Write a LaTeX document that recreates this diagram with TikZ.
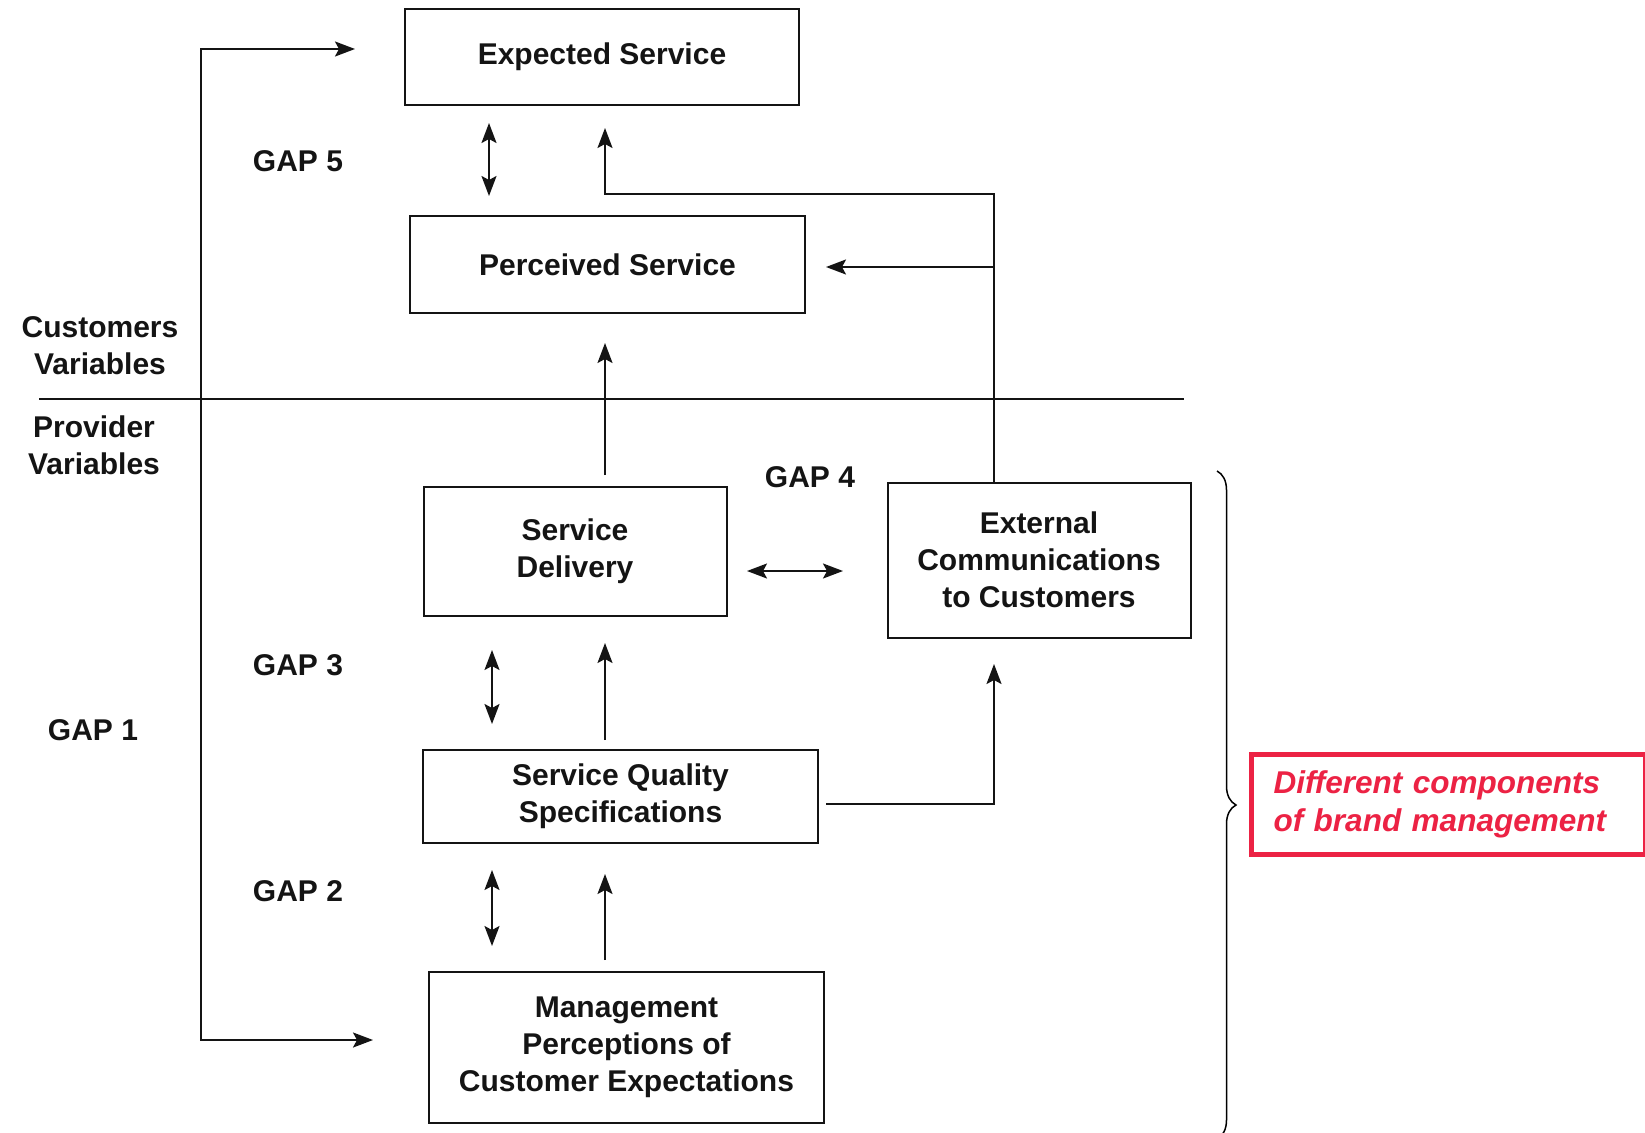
\documentclass[tikz,border=0pt]{standalone}
\usepackage{fontspec}
\setmainfont{Liberation Sans}
\usetikzlibrary{arrows.meta,decorations.pathreplacing}
\definecolor{ink}{RGB}{20,20,20}
\definecolor{brandred}{RGB}{236,34,68}
\tikzset{
  headtip/.tip={Stealth[length=20pt,width=15pt,inset=4pt]},
}
\begin{document}
\begin{tikzpicture}[x=1pt,y=-1pt,
  lbl/.style={font=\fontsize{30}{37}\selectfont\bfseries, text=ink, align=center, inner sep=0pt},
  box/.style={lbl, draw=ink, line width=2pt},
  conn/.style={draw=ink, line width=2pt, arrows={-headtip}},
  dconn/.style={draw=ink, line width=2pt, arrows={headtip-headtip}},
  rule/.style={draw=ink, line width=1.5pt},
]
\useasboundingbox (0,0) rectangle (1645,1132);
\fill[white] (0,0) rectangle (1645,1132);

% model boxes
\node[box, minimum width=394pt, minimum height=95pt]  (exp)   at (602,57)    {Expected Service};
\node[box, minimum width=395pt, minimum height=97pt]  (perc)  at (607.5,264.5) {Perceived Service};
\node[box, minimum width=303pt, minimum height=129pt] (deliv) at (575,551.5) {Service\\Delivery};
\node[box, minimum width=303pt, minimum height=155pt] (ext)   at (1039,560)  {External\\Communications\\to Customers};
\node[box, minimum width=395pt, minimum height=93pt]  (spec)  at (620.5,796.5) {Service Quality\\Specifications};
\node[box, minimum width=395pt, minimum height=151pt] (mgmt)  at (626.5,1047.5) {Management\\Perceptions of\\Customer Expectations};

% side and gap labels
\node[lbl] (cust) at (100,346) {Customers\\Variables};
\node[lbl] (prov) at (94,445) {Provider\\Variables};
\node[lbl] (gap1) at (93,730) {GAP 1};
\node[lbl] (gap5) at (298,161) {GAP 5};
\node[lbl] (gap4) at (810,477) {GAP 4};
\node[lbl] (gap3) at (298,665) {GAP 3};
\node[lbl] (gap2) at (298,891) {GAP 2};

% divider between customer and provider sides
\coordinate (divL) at (39,399);
\coordinate (divR) at (1184,399);
\draw[rule] (divL) -- (divR);

% connector end points
\coordinate (g5a) at (489,123);  \coordinate (g5b) at (489,196);
\coordinate (g4a) at (747,571);  \coordinate (g4b) at (843,571);
\coordinate (g3a) at (492,650);  \coordinate (g3b) at (492,724);
\coordinate (g2a) at (492,870);  \coordinate (g2b) at (492,946);
\coordinate (l1a) at (355,49);   \coordinate (l1b) at (201,49);
\coordinate (l1c) at (201,1040); \coordinate (l1d) at (373,1040);
\coordinate (fbs) at (994,482);  \coordinate (fbc) at (994,194);
\coordinate (fbt) at (605,128);
\coordinate (brs) at (994,267);  \coordinate (brt) at (826,267);
\coordinate (dvs) at (605,475);  \coordinate (dvt) at (605,343);
\coordinate (sps) at (605,740);  \coordinate (spt) at (605,643);
\coordinate (mgs) at (605,960);  \coordinate (mgt) at (605,874);
\coordinate (sxs) at (826,804);  \coordinate (sxt) at (994,664);

% gaps
\draw[dconn] (g5a) -- (g5b);
\draw[dconn] (g4a) -- (g4b);
\draw[dconn] (g3a) -- (g3b);
\draw[dconn] (g2a) -- (g2b);
\draw[dconn] (l1a) -- (l1b) -- (l1c) -- (l1d);

% flows
\draw[conn] (fbs) -- (fbc) -| (fbt);
\draw[conn] (brs) -- (brt);
\draw[conn] (dvs) -- (dvt);
\draw[conn] (sps) -- (spt);
\draw[conn] (mgs) -- (mgt);
\draw[conn] (sxs) -| (sxt);

% brace and annotation
\coordinate (bra) at (1217,471);
\coordinate (brb) at (1217,1139);
\draw[decorate, decoration={brace, amplitude=19pt}, line width=1.5pt] (bra) -- (brb);
\node[draw=brandred, line width=5pt, text=brandred, align=left, inner xsep=22pt,
      text width=350pt, minimum height=100pt, anchor=west,
      font=\fontsize{31.5}{38}\selectfont\bfseries\itshape] (brand) at (1249,804)
      {Different components\\of brand management};
\end{tikzpicture}
\end{document}
